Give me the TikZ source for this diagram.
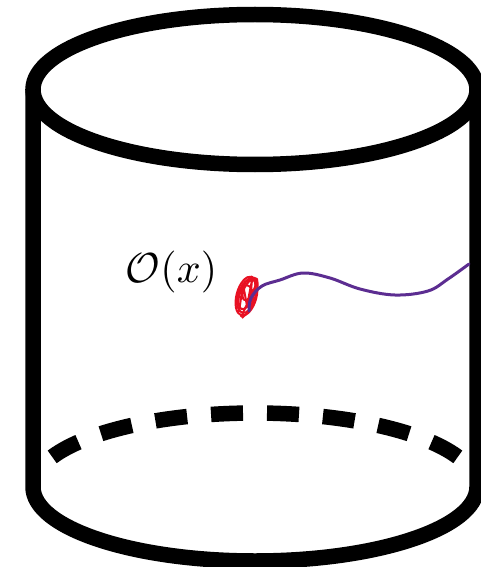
\documentclass[tikz,border=0pt]{standalone}
\usepackage{tikz}
\definecolor{inkred}{HTML}{E81123}
\definecolor{inkpurple}{HTML}{5C2D91}
\begin{document}
\begin{tikzpicture}[x=1pt,y=-1pt,
  cyl/.style={line width=15.5pt,black},
  backdash/.style={line width=15.5pt,black,dash pattern=on 32pt off 24pt,dash phase=44pt},
  scrib/.style={inkred,line width=2pt,line join=round},
  wl/.style={inkpurple,line width=3pt,line cap=round,line join=round}]
\useasboundingbox (0,0) rectangle (481,567);
% top ellipse
\draw[cyl] (255,89.5) ellipse [x radius=222, y radius=75];
% sides and front bottom
\draw[cyl] (33,89.5) -- (33,487) arc[start angle=180, end angle=0, x radius=222, y radius=74] -- (477,89.5);
% back bottom dashed
\coordinate (btop) at (255,413);
\draw[backdash] (btop) arc[start angle=270, end angle=204, x radius=222, y radius=74];
\draw[backdash] (btop) arc[start angle=270, end angle=336, x radius=222, y radius=74];
% label
\node[scale=4.2] (lab) at (171.5,272) {$\mathcal{O}(x)$};
% red scribble
\draw[scrib] (246.5,296) ellipse [x radius=10, y radius=20, rotate=-15];
\draw[scrib] (247,294) ellipse [x radius=7, y radius=16, rotate=-20];
\draw[scrib] (245,299) ellipse [x radius=8, y radius=14, rotate=-8];
\draw[scrib] (249,290) ellipse [x radius=5, y radius=11, rotate=-25];
\draw[scrib] (239,312) -- (243,284) -- (247,306) -- (252,280) -- (250,301) -- (256,285) -- (241,317);
\draw[scrib] (237,300) .. controls (239,284) and (250,274) .. (257,279) .. controls (260,290) and (252,310) .. (242,318);
% purple worldline
\coordinate (ws) at (249,311);
\coordinate (we) at (469,264);
\draw[wl] plot[smooth,tension=0.6] coordinates {(ws) (251,298) (262,286) (280,280) (303,273) (330,278) (360,289) (395,295) (428,291) (448,279) (we)};
\end{tikzpicture}
\end{document}
